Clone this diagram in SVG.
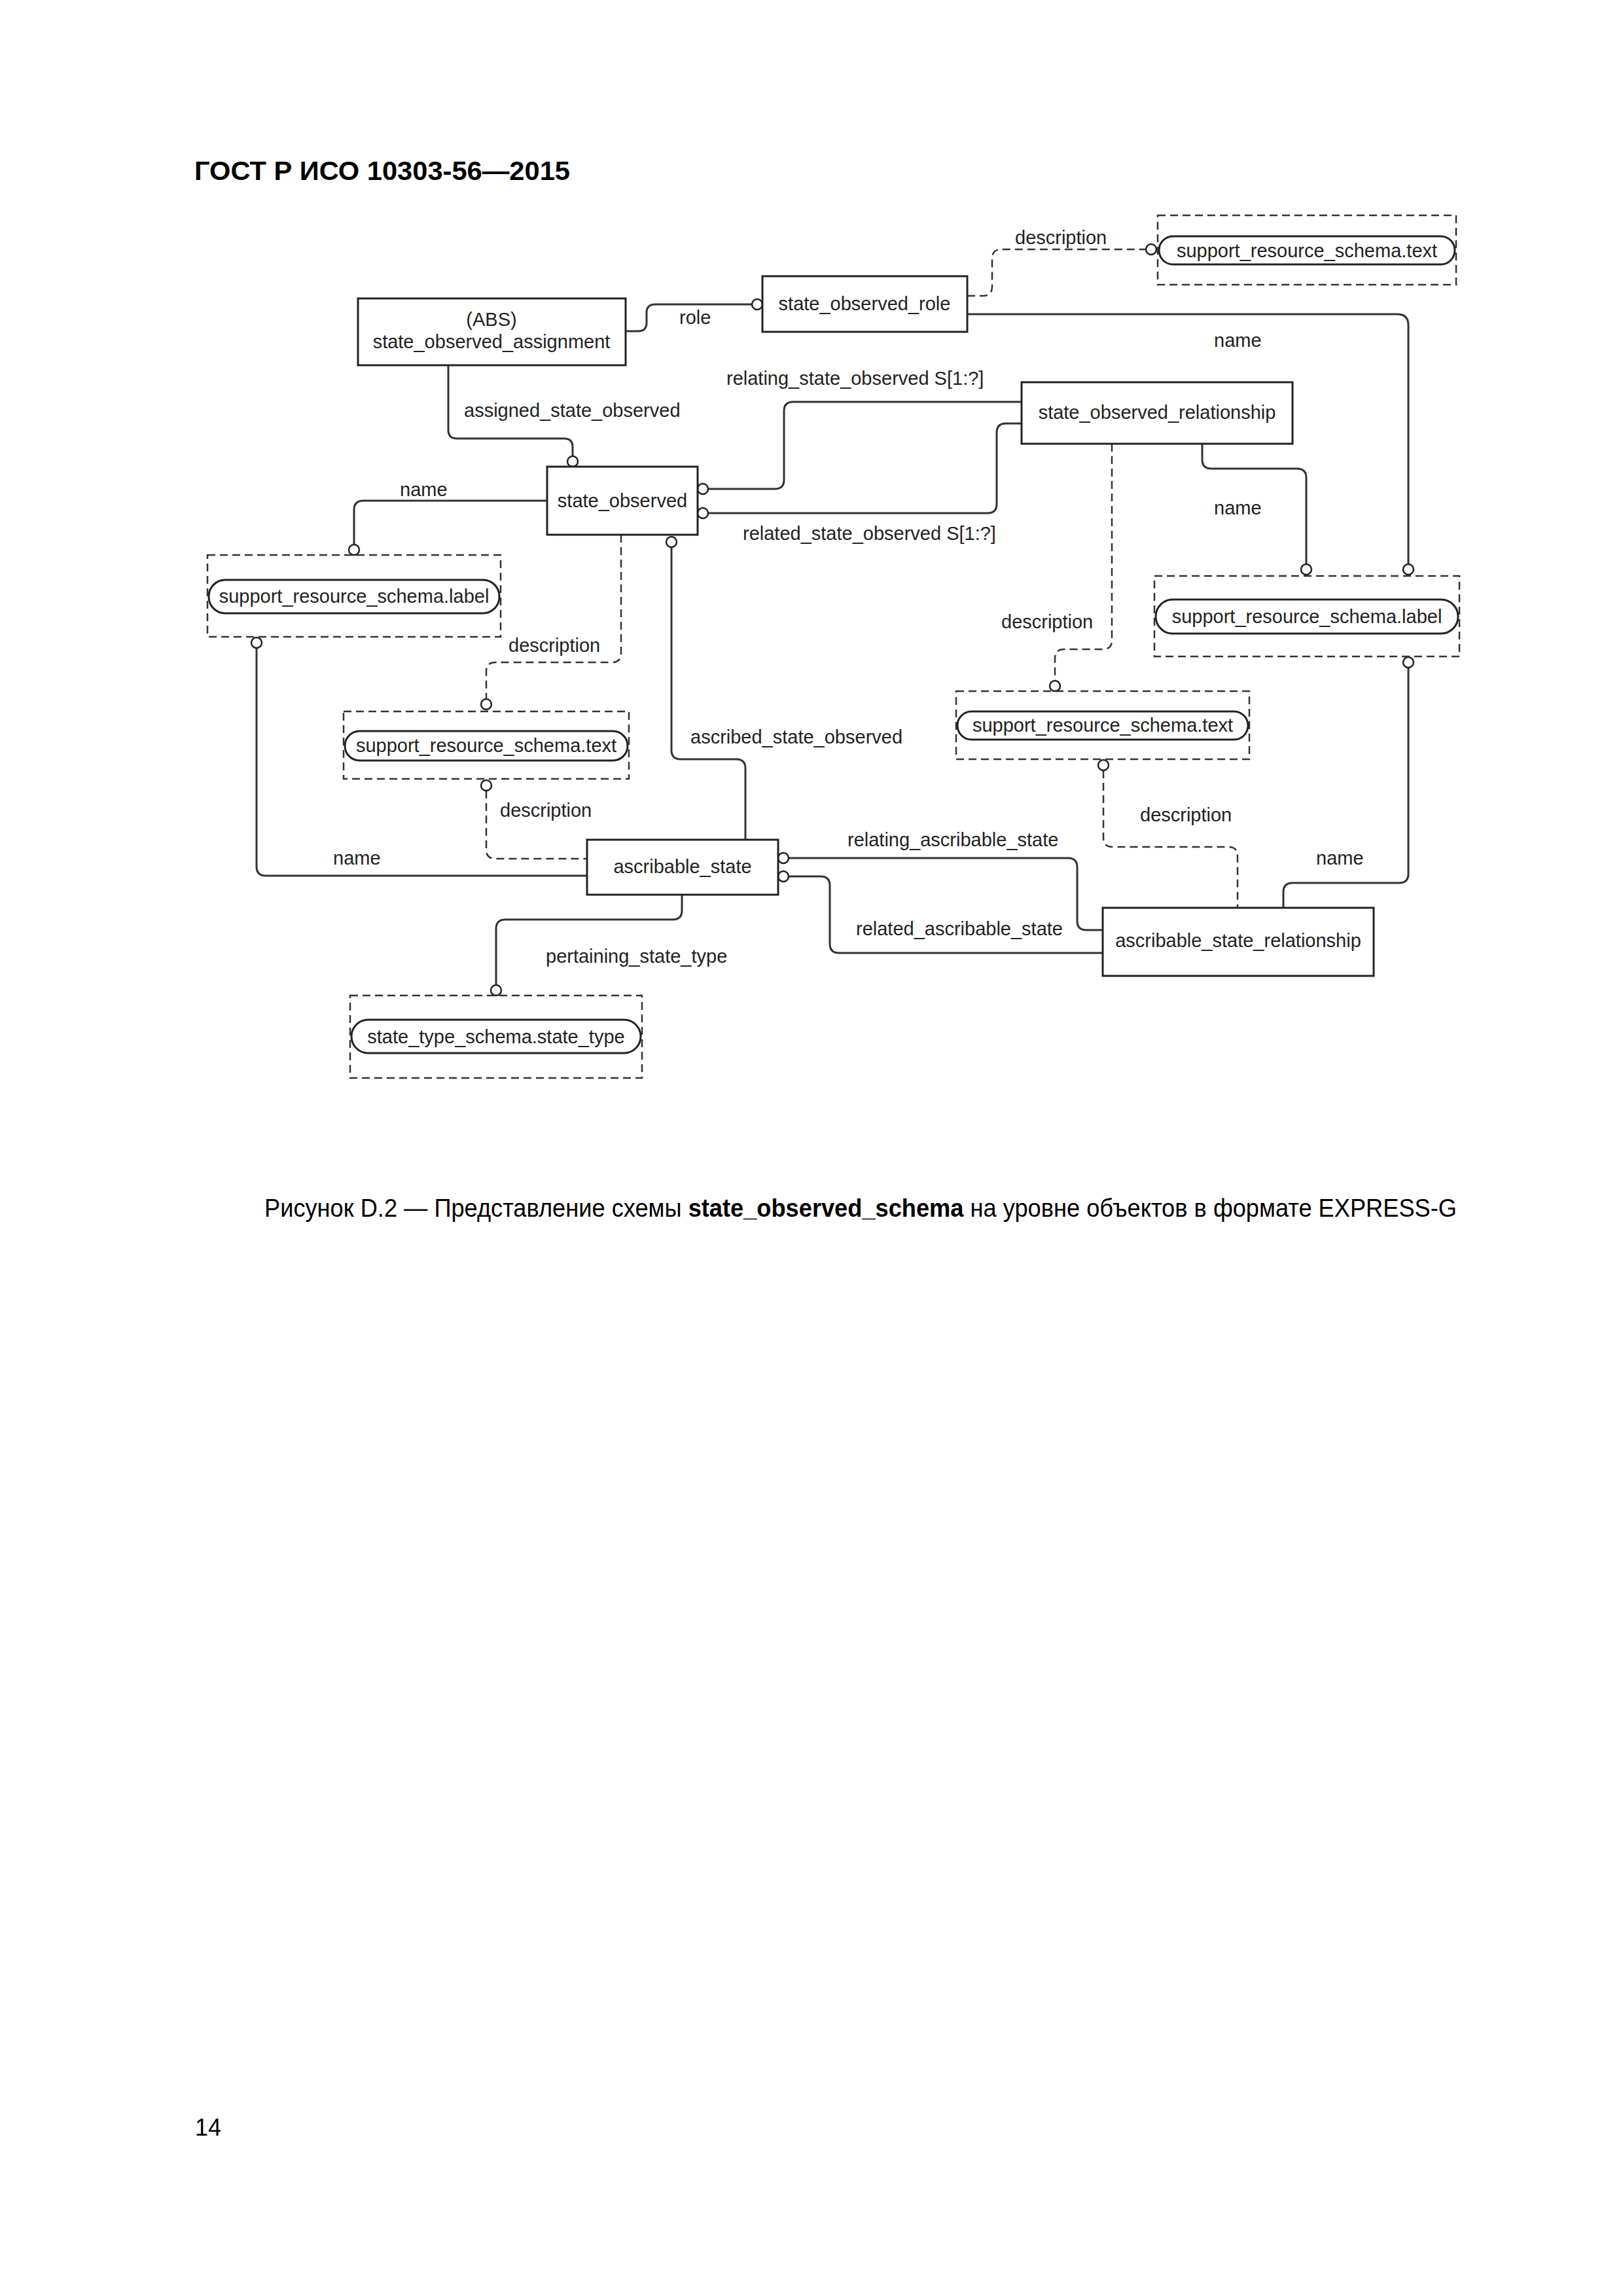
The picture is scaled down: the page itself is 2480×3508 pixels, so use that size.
<svg xmlns="http://www.w3.org/2000/svg" width="2480" height="3508" viewBox="0 0 2480 3508">
<defs>
<style>
.ent{fill:#fff;stroke:#222;stroke-width:3}
.ref{fill:none;stroke:#333;stroke-width:2.5;stroke-dasharray:12 7}
.pill{fill:#fff;stroke:#222;stroke-width:3}
.t{font-family:"Liberation Sans",Arial,sans-serif;font-size:29px;fill:#222}
.c{text-anchor:middle}
.ln{fill:none;stroke:#333;stroke-width:3}
.dl{fill:none;stroke:#333;stroke-width:2.5;stroke-dasharray:12 7}
.o{fill:#fff;stroke:#222;stroke-width:2.5}
</style>
</defs>
<rect width="2480" height="3508" fill="#fff"/>
<text x="297" y="275" font-family="'Liberation Sans',Arial,sans-serif" font-size="41" font-weight="bold" fill="#000" textLength="574" lengthAdjust="spacingAndGlyphs">ГОСТ Р ИСО 10303-56—2015</text>

<g id="connectors">
<path class="ln" d="M956,506 H975 Q988,506 988,493 V478 Q988,465 1001,465 H1149"/>
<circle class="o" cx="1157" cy="465" r="8"/>
<text class="t" x="1038" y="495">role</text>

<path class="dl" d="M1478,452 H1502 Q1516,452 1516,438 V395 Q1516,381 1530,381 H1751"/>
<circle class="o" cx="1759" cy="381" r="8"/>
<text class="t" x="1551" y="373">description</text>

<path class="ln" d="M1478,480 H2135 Q2152,480 2152,497 V862"/>
<circle class="o" cx="2152" cy="870" r="8"/>
<text class="t" x="1855" y="530">name</text>

<path class="ln" d="M685,558 V657 Q685,670 698,670 H862 Q875,670 875,683 V697"/>
<circle class="o" cx="875" cy="705" r="8"/>
<text class="t" x="709" y="637">assigned_state_observed</text>

<path class="ln" d="M836,765 H555 Q541,765 541,779 V832"/>
<circle class="o" cx="541" cy="840" r="8"/>
<text class="t" x="611" y="758">name</text>

<path class="ln" d="M1082,747 H1184 Q1198,747 1198,733 V628 Q1198,614 1212,614 H1561"/>
<circle class="o" cx="1074" cy="747" r="8"/>
<text class="t" x="1110" y="588">relating_state_observed S[1:?]</text>

<path class="ln" d="M1082,784 H1509 Q1523,784 1523,770 V661 Q1523,647 1537,647 H1561"/>
<circle class="o" cx="1074" cy="784" r="8"/>
<text class="t" x="1135" y="825">related_state_observed S[1:?]</text>

<path class="dl" d="M949,817 V998 Q949,1012 935,1012 H757 Q743,1012 743,1026 V1068"/>
<circle class="o" cx="743" cy="1076" r="8"/>
<text class="t" x="777" y="996">description</text>

<path class="ln" d="M1026,836 V1146 Q1026,1160 1040,1160 H1125 Q1139,1160 1139,1174 V1283"/>
<circle class="o" cx="1026" cy="828" r="8"/>
<text class="t" x="1055" y="1136">ascribed_state_observed</text>

<path class="dl" d="M1699,678 V978 Q1699,992 1685,992 H1626 Q1612,992 1612,1006 V1040"/>
<circle class="o" cx="1612" cy="1048" r="8"/>
<text class="t" x="1530" y="960">description</text>

<path class="ln" d="M1837,678 V702 Q1837,716 1851,716 H1982 Q1996,716 1996,730 V862"/>
<circle class="o" cx="1996" cy="870" r="8"/>
<text class="t" x="1855" y="786">name</text>

<path class="ln" d="M392,990 V1324 Q392,1338 406,1338 H897"/>
<circle class="o" cx="392" cy="982" r="8"/>
<text class="t" x="509" y="1321">name</text>

<path class="dl" d="M743,1208 V1298 Q743,1312 757,1312 H897"/>
<circle class="o" cx="743" cy="1200" r="8"/>
<text class="t" x="764" y="1248">description</text>

<path class="ln" d="M1205,1311 H1632 Q1646,1311 1646,1325 V1407 Q1646,1421 1660,1421 H1685"/>
<circle class="o" cx="1197" cy="1311" r="8"/>
<text class="t" x="1295" y="1293">relating_ascribable_state</text>

<path class="ln" d="M1205,1339 H1254 Q1268,1339 1268,1353 V1442 Q1268,1456 1282,1456 H1685"/>
<circle class="o" cx="1197" cy="1339" r="8"/>
<text class="t" x="1308" y="1429">related_ascribable_state</text>

<path class="dl" d="M1686,1177 V1280 Q1686,1294 1700,1294 H1877 Q1891,1294 1891,1308 V1387"/>
<circle class="o" cx="1686" cy="1169" r="8"/>
<text class="t" x="1742" y="1255">description</text>

<path class="ln" d="M2152,1020 V1335 Q2152,1349 2138,1349 H1975 Q1961,1349 1961,1363 V1387"/>
<circle class="o" cx="2152" cy="1012" r="8"/>
<text class="t" x="2011" y="1321">name</text>

<path class="ln" d="M1042,1367 V1391 Q1042,1405 1028,1405 H772 Q758,1405 758,1419 V1505"/>
<circle class="o" cx="758" cy="1513" r="8"/>
<text class="t" x="834" y="1471">pertaining_state_type</text>
</g>

<g id="state_observed_assignment">
<rect class="ent" x="547" y="456" width="409" height="102"/>
<text class="t c" x="751" y="498">(ABS)</text>
<text class="t c" x="751" y="532">state_observed_assignment</text>
</g>
<g id="state_observed_role">
<rect class="ent" x="1165" y="422" width="313" height="85"/>
<text class="t c" x="1321" y="474">state_observed_role</text>
</g>
<g id="state_observed">
<rect class="ent" x="836" y="713" width="230" height="104"/>
<text class="t c" x="951" y="775">state_observed</text>
</g>
<g id="state_observed_relationship">
<rect class="ent" x="1561" y="584" width="414" height="94"/>
<text class="t c" x="1768" y="640">state_observed_relationship</text>
</g>
<g id="ascribable_state">
<rect class="ent" x="897" y="1283" width="292" height="84"/>
<text class="t c" x="1043" y="1334">ascribable_state</text>
</g>
<g id="ascribable_state_relationship">
<rect class="ent" x="1685" y="1387" width="414" height="104"/>
<text class="t c" x="1892" y="1447">ascribable_state_relationship</text>
</g>

<g id="ref_text_top">
<rect class="ref" x="1769" y="329" width="456" height="106"/>
<rect class="pill" x="1771" y="361" width="452" height="43" rx="21.5"/>
<text class="t c" x="1997" y="393">support_resource_schema.text</text>
</g>
<g id="ref_label_left">
<rect class="ref" x="317" y="848" width="448" height="125"/>
<rect class="pill" x="319" y="886" width="444" height="51" rx="25"/>
<text class="t c" x="541" y="921">support_resource_schema.label</text>
</g>
<g id="ref_text_middle">
<rect class="ref" x="525" y="1087" width="436" height="103"/>
<rect class="pill" x="527" y="1117" width="432" height="45" rx="22.5"/>
<text class="t c" x="743" y="1149">support_resource_schema.text</text>
</g>
<g id="ref_label_right">
<rect class="ref" x="1764" y="880" width="466" height="123"/>
<rect class="pill" x="1766" y="916" width="462" height="52" rx="26"/>
<text class="t c" x="1997" y="952">support_resource_schema.label</text>
</g>
<g id="ref_text_right">
<rect class="ref" x="1461" y="1056" width="448" height="104"/>
<rect class="pill" x="1463" y="1087" width="444" height="43" rx="21.5"/>
<text class="t c" x="1685" y="1118">support_resource_schema.text</text>
</g>
<g id="ref_state_type">
<rect class="ref" x="535" y="1521" width="446" height="126"/>
<rect class="pill" x="537" y="1558" width="442" height="51" rx="25.5"/>
<text class="t c" x="758" y="1594">state_type_schema.state_type</text>
</g>

<text x="404" y="1859" font-family="'Liberation Sans',Arial,sans-serif" font-size="38" fill="#000" textLength="1822" lengthAdjust="spacingAndGlyphs">Рисунок D.2 — Представление схемы <tspan font-weight="bold">state_observed_schema</tspan> на уровне объектов в формате EXPRESS-G</text>
<text x="298" y="3263" font-family="'Liberation Sans',Arial,sans-serif" font-size="36" fill="#000">14</text>
</svg>
